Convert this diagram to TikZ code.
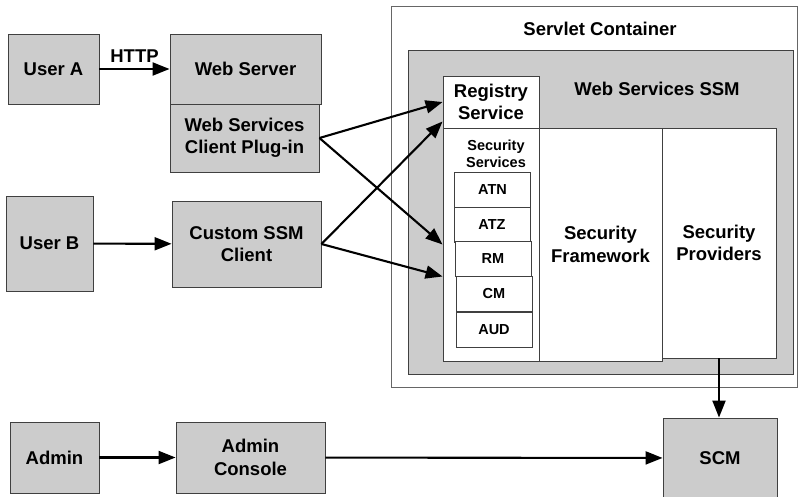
\documentclass[tikz,border=0pt]{standalone}
\usepackage{fontspec}
\setmainfont{Liberation Sans}
\usetikzlibrary{positioning,shapes,arrows.meta}

\definecolor{boxgray}{HTML}{CCCCCC}
\definecolor{edgegray}{HTML}{404040}

\tikzset{
  box/.style={draw=edgegray, line width=0.9, fill=boxgray, inner sep=0, align=center,
    font=\fontsize{18.5}{22.5}\selectfont\bfseries},
  pane/.style={box, fill=white},
  svc/.style={pane, minimum width=76, minimum height=35, font=\fontsize{14.5}{17.5}\selectfont\bfseries},
  title/.style={inner sep=0, align=center, font=\fontsize{18.5}{22.5}\selectfont\bfseries},
  link/.style={line width=2.1, -{Triangle[length=17pt,width=13pt]}}
}

\begin{document}
\begin{tikzpicture}[x=1pt,y=-1pt]
\fill[white] (0,0) rectangle (799,496);
\useasboundingbox (0,0) rectangle (799,496);

\node[box, minimum width=91, minimum height=70] (usera) at (53.5,69) {User A};
\node[box, minimum width=151, minimum height=70] (websrv) at (245.5,69) {Web Server};
\node[box, minimum width=149, minimum height=68] (plugin) at (244.5,138) {Web Services\\Client Plug-in};
\node[box, minimum width=87, minimum height=95] (userb) at (49.5,243.5) {User B};
\node[box, minimum width=149, minimum height=86] (custom) at (246.5,244) {Custom SSM\\Client};
\node[box, minimum width=89, minimum height=71] (admin) at (54.5,457.5) {Admin};
\node[box, minimum width=149, minimum height=71] (console) at (250.5,457.5) {Admin\\Console};
\node[box, minimum width=114, minimum height=80] (scm) at (720,458) {SCM};

\node[draw=black!60, line width=0.9, minimum width=406, minimum height=381, inner sep=0] (servlet) at (594,196.5) {};
\node[title] (servletlbl) at (600,29) {Servlet Container};
\node[box, minimum width=385, minimum height=324] (ssm) at (600.5,212) {};
\node[title] (ssmlbl) at (657,89) {Web Services SSM};
\node[pane, minimum width=96, minimum height=52] (registry) at (491,102) {Registry\\Service};
\node[pane, minimum width=96, minimum height=233] (secserv) at (491,244.5) {};
\node[title, font=\fontsize{14.5}{17.5}\selectfont\bfseries] (secservlbl) at (496,154) {Security\\Services};
\node[pane, minimum width=123, minimum height=233] (framework) at (600.5,244.5) {Security\\Framework};
\node[pane, minimum width=114, minimum height=230] (providers) at (719,243) {Security\\Providers};

\foreach \n/\t/\cx/\cy in {atn/ATN/492.5/189.5, atz/ATZ/492/224.5, rm/RM/493/259, cm/CM/494/293.5, aud/AUD/494/330}
  \node[svc] (\n) at (\cx,\cy) {\t};

\draw[link] (usera) -- node[title, above=5pt] (http) {HTTP} (websrv);
\draw[link] (userb) -- (custom);
\draw[link] (admin) -- (console);
\draw[link] (console) -- (scm);
\draw[link] (plugin.east) -- (registry.west);
\draw[link] (plugin.east) -- (secserv.west);
\draw[link] (custom.east) -- ([yshift=7pt]registry.south west);
\draw[link] (custom.east) -- ([yshift=-32pt]secserv.west);
\draw[link] (providers.south) -- (providers.south |- scm.north);
\end{tikzpicture}
\end{document}
